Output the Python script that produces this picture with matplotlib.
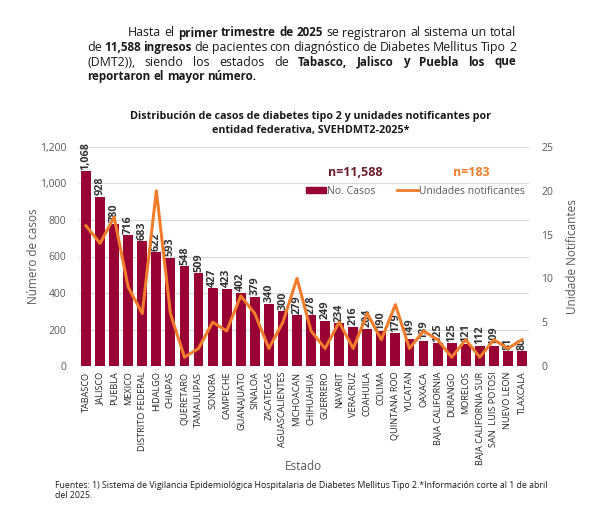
import matplotlib
matplotlib.use("Agg")
import matplotlib.pyplot as plt
import numpy as np
from matplotlib.patches import Patch
from matplotlib.lines import Line2D

plt.rcParams['font.family'] = ['Open Sans', 'DejaVu Sans']

estados = ['TABASCO', 'JALISCO', 'PUEBLA', 'MEXICO', 'DISTRITO FEDERAL', 'HIDALGO',
           'CHIAPAS', 'QUERETARO', 'TAMAULIPAS', 'SONORA', 'CAMPECHE', 'GUANAJUATO',
           'SINALOA', 'ZACATECAS', 'AGUASCALIENTES', 'MICHOACAN', 'CHIHUAHUA', 'GUERRERO',
           'NAYARIT', 'VERACRUZ', 'COAHUILA', 'COLIMA', 'QUINTANA ROO', 'YUCATAN',
           'OAXACA', 'BAJA CALIFORNIA', 'DURANGO', 'MORELOS', 'BAJA CALIFORNIA SUR',
           'SAN  LUIS POTOSI', 'NUEVO LEON', 'TLAXCALA']
casos = [1068, 928, 780, 716, 683, 622, 593, 548, 509, 427, 423, 402, 379, 340, 300,
         279, 278, 249, 234, 216, 204, 190, 179, 149, 139, 125, 125, 121, 112, 109, 81, 80]
unidades = [16, 14, 17, 9, 6, 20, 6, 1, 2, 5, 4, 8, 6, 2, 5, 10, 4, 2, 5, 2, 6, 3, 7,
            2, 4, 3, 1, 3, 1, 3, 2, 3]

BAR = '#990033'
ORANGE = '#F07D2B'
GRAY = '#595959'
W, H = 600, 512

fig = plt.figure(figsize=(6, 5.12), dpi=100)
renderer = fig.canvas.get_renderer()


def px(x, y):
    return x / W, 1 - y / H


def draw_line(tokens, x0, x1, y, justify=True, space=3.0):
    # tokens: (word, bold); words placed one by one so the line can be justified
    texts = []
    total = 0
    for word, bold in tokens:
        t = fig.text(0, 0, word, fontsize=8.4 if bold else 8.9,
                     fontweight='bold' if bold else 'normal',
                     color='#1a1a1a', va='center', ha='left')
        w = t.get_window_extent(renderer).width
        texts.append((t, w))
        total += w
    gap = (x1 - x0 - total) / (len(tokens) - 1) if justify else space
    x = x0
    for t, w in texts:
        t.set_position(px(x, y))
        x += w + gap


def words(s, bold):
    return [(w, bold) for w in s.split()]


draw_line(words('Hasta el', False) + words('primer trimestre de 2025', True) +
          words('se registraron al sistema un total', False), 128, 516, 33)
draw_line(words('de', False) + words('11,588 ingresos', True) +
          words('de pacientes con diagnóstico de Diabetes Mellitus Tipo 2', False), 87, 516, 47.5)
draw_line(words('(DMT2)),', False) + words('siendo los estados de', False) +
          words('Tabasco, Jalisco y Puebla los que', True), 87, 516, 62)
draw_line(words('reportaron el mayor número.', True), 87, 516, 76.5, justify=False)

fig.text(*px(311, 117), 'Distribución de casos de diabetes tipo 2 y unidades notificantes por',
         ha='center', va='center', fontsize=7.75, fontweight='bold', color='#1a1a1a')
fig.text(*px(311, 131), 'entidad federativa, SVEHDMT2-2025*',
         ha='center', va='center', fontsize=7.75, fontweight='bold', color='#1a1a1a')

l, r, t, b = 79, 529, 147, 366
ax = fig.add_axes([l / W, 1 - b / H, (r - l) / W, (b - t) / H])
x = np.arange(len(estados))
ax.bar(x, casos, width=0.7, color=BAR, zorder=2)
ax.set_xlim(-0.5, len(estados) - 0.5)
ax.set_ylim(0, 1200)
ax.set_yticks(range(0, 1201, 200))
ax.set_yticklabels([f'{v:,}' for v in range(0, 1201, 200)])
ax.grid(axis='y', color='#d9d9d9', lw=0.8, zorder=0)
ax.set_axisbelow(True)
ax.set_xticks(x)
ax.set_xticklabels(estados, rotation=90, fontsize=6.6, color='#262626')
ax.tick_params(length=0, pad=4)
ax.tick_params(axis='y', labelsize=7.5, labelcolor=GRAY, pad=9)
for s in ax.spines.values():
    s.set_visible(False)
ax.set_ylabel('Número de casos', fontsize=8.5, color=GRAY)
ax.yaxis.set_label_coords((40 - l) / (r - l), 0.5)
fig.text(*px(303, 467), 'Estado', ha='center', va='center', fontsize=8.5, color=GRAY)

for xi, v in zip(x, casos):
    ax.text(xi, v + 8, f'{v:,}', rotation=90, ha='center', va='bottom',
            fontsize=7.8, fontweight='bold', color='#333333', zorder=3)

ax2 = ax.twinx()
ax2.plot(x, unidades, color=ORANGE, lw=2.2, zorder=4)
ax2.set_ylim(0, 25)
ax2.set_yticks(range(0, 26, 5))
ax2.tick_params(length=0, labelsize=7.5, labelcolor=GRAY, pad=9)
for s in ax2.spines.values():
    s.set_visible(False)
ax2.set_ylabel('Unidade Notificantes', fontsize=8.5, color=GRAY)
ax2.yaxis.set_label_coords((566 - l) / (r - l), 0.5)

handles = [Patch(color=BAR), Line2D([0], [0], color=ORANGE, lw=2)]
ax2.legend(handles, ['No. Casos', 'Unidades notificantes'], ncol=2, frameon=False,
           loc='center', bbox_to_anchor=((415 - l) / (r - l), (b - 191) / (b - t)),
           fontsize=7.5, labelcolor=GRAY, handlelength=2.0, handleheight=0.6,
           columnspacing=2.0, handletextpad=0.1)

fig.text(*px(355, 173), 'n=11,588', ha='center', va='center', fontsize=9,
         fontweight='bold', color='#6b1e2e')
fig.text(*px(471, 173), 'n=183', ha='center', va='center', fontsize=9,
         fontweight='bold', color=ORANGE)

fig.text(*px(55, 486), 'Fuentes: 1) Sistema de Vigilancia Epidemiológica Hospitalaria de Diabetes '
         'Mellitus Tipo 2.*Información corte al 1 de abril', fontsize=6.35, va='center', color='#1a1a1a')
fig.text(*px(55, 496), 'del 2025.', fontsize=6.35, va='center', color='#1a1a1a')

fig.savefig('out.png', dpi=100)
